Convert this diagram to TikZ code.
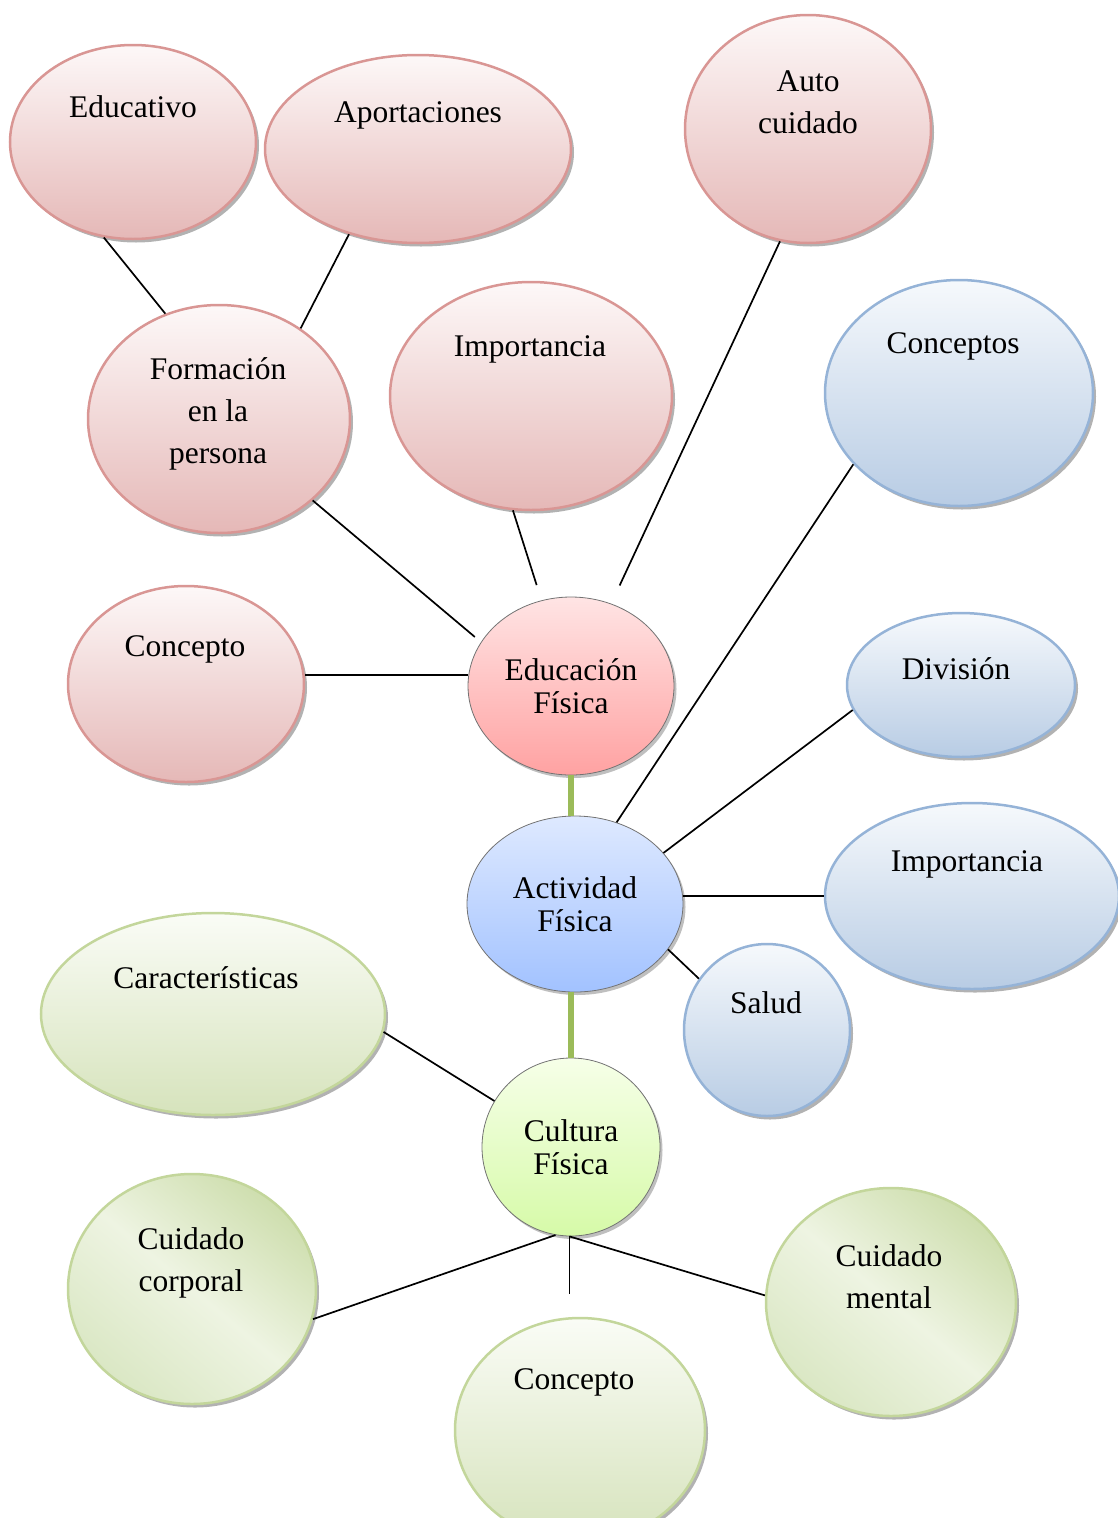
\documentclass[tikz,border=0pt]{standalone}
\usepackage{fontspec}
\setmainfont{Liberation Serif}
\usetikzlibrary{shapes.geometric,shadows,calc}

\definecolor{redline}{RGB}{217,150,148}
\definecolor{redtop}{RGB}{253,248,248}
\definecolor{redbot}{RGB}{229,184,183}
\definecolor{blueline}{RGB}{149,179,215}
\definecolor{bluetop}{RGB}{246,249,252}
\definecolor{bluebot}{RGB}{184,204,228}
\definecolor{greenline}{RGB}{195,214,155}
\definecolor{greentop}{RGB}{250,252,246}
\definecolor{greenbot}{RGB}{214,227,188}
\definecolor{greenlight}{RGB}{238,244,226}
\definecolor{greendark}{RGB}{206,222,174}
\definecolor{greenmid}{RGB}{218,231,196}
\definecolor{eftop}{RGB}{255,228,228}
\definecolor{efbot}{RGB}{255,162,162}
\definecolor{aftop}{RGB}{222,233,255}
\definecolor{afbot}{RGB}{162,194,255}
\definecolor{cftop}{RGB}{246,255,232}
\definecolor{cfbot}{RGB}{214,250,168}
\definecolor{spinegreen}{RGB}{155,187,89}

\tikzset{
  bubble/.style={ellipse, inner sep=0pt, line width=2.5pt,
    drop shadow={shadow xshift=3pt, shadow yshift=-3.5pt, fill=black!55, opacity=.55}},
  redbub/.style={bubble, draw=redline, top color=redtop, bottom color=redbot},
  bluebub/.style={bubble, draw=blueline, top color=bluetop, bottom color=bluebot},
  greenbub/.style={bubble, draw=greenline, top color=greentop, bottom color=greenbot},
  greendiag/.style={bubble, draw=greenline, top color=greendark, bottom color=greenmid,
    middle color=greenlight, shading angle=-40},
  hub/.style={ellipse, inner sep=0pt, draw=black!55, line width=0.8pt,
    drop shadow={shadow xshift=2.5pt, shadow yshift=-3pt, fill=black!50, opacity=.5}},
  lbl/.style={font=\fontsize{31.5}{42}\selectfont, align=center, inner sep=0pt, yshift=-3pt},
  hublbl/.style={font=\fontsize{31.5}{33}\selectfont, align=center, inner sep=0pt},
  link/.style={line width=1.7pt, black},
  spine/.style={line width=5.5pt, spinegreen},
}

\begin{document}
\begin{tikzpicture}[x=1pt,y=-1pt]
\useasboundingbox (0,0) rectangle (1117,1518);

% Outer bubbles around "Educación Física"
\node[redbub, minimum width=246pt, minimum height=194pt] (edu)  at (133,142) {};
\node[redbub, minimum width=306pt, minimum height=188pt] (apor) at (418,149) {};
\node[redbub, minimum width=246pt, minimum height=228pt] (auto) at (808,129) {};
\node[redbub, minimum width=262pt, minimum height=228pt] (form) at (219,419) {};
\node[redbub, minimum width=282pt, minimum height=228pt] (imp1) at (531,396) {};
\node[redbub, minimum width=236pt, minimum height=196pt] (con1) at (186,684) {};

% Outer bubbles around "Actividad Física"
\node[bluebub, minimum width=268pt, minimum height=226pt] (concs) at (959,393) {};
\node[bluebub, minimum width=228pt, minimum height=144pt] (div)   at (961,685) {};
\node[bluebub, minimum width=294pt, minimum height=186pt] (imp2)  at (972,896) {};
\node[bluebub, minimum width=166pt, minimum height=172pt] (salud) at (767,1030) {};

% Outer bubbles around "Cultura Física"
\node[greenbub,  minimum width=344pt, minimum height=202pt] (car)  at (213,1014) {};
\node[greendiag, minimum width=248pt, minimum height=230pt] (cc)   at (192,1289) {};
\node[greendiag, minimum width=250pt, minimum height=228pt] (cm)   at (891,1302) {};
\node[greenbub,  minimum width=250pt, minimum height=224pt] (con3) at (580,1430) {};

% Central hubs
\node[hub, top color=eftop, bottom color=efbot, minimum width=206pt, minimum height=178pt] (ef) at (571,686) {};
\node[hub, top color=aftop, bottom color=afbot, minimum width=216pt, minimum height=176pt] (af) at (575,904) {};
\node[hub, top color=cftop, bottom color=cfbot, minimum width=178pt, minimum height=178pt] (cf) at (571,1147) {};

% Spine between hubs
\draw[spine] (ef.south) -- (ef.south |- af.north);
\draw[spine] (af.south -| cf.north) -- (cf.north);

% Connectors
\draw[link] (edu.-107) -- (form.117);
\draw[link] (apor.-129) -- (form.48);
\draw[link, shorten >=8pt] (form.-41) -- (ef.154);
\draw[link, shorten >=16pt] (imp1.-99) -- (ef.109);
\draw[link, shorten >=20pt] (auto.-104) -- (ef.64);
\draw[link] (ef.174) -- (ef.174 -| con1.east);
\draw[link] (concs.-146) -- (af.63);
\draw[link] (div.-167) -- (af.30);
\draw[link] (imp2.west) -- (imp2.west -| af.east);
\draw[link] (salud.143) -- (af.-26);
\draw[link] (car.-6) -- (cf.149);
\draw[link] (cf.-100) -- (cc.-14);
\draw[link, shorten >=23pt] (cf.-91) -- (cf.-91 |- con3.north);
\draw[link] (cf.-91) -- (cm.177);

% Labels
\node[lbl] (edu-t)   at (133,104) {Educativo};
\node[lbl] (apor-t)  at (418,112) {Aportaciones};
\node[lbl] (auto-t)  at (808,99)  {Auto\\cuidado};
\node[lbl] (form-t)  at (218,411) {Formación\\en la\\persona};
\node[lbl] (imp1-t)  at (530,346) {Importancia};
\node[lbl] (con1-t)  at (185,646) {Concepto};
\node[lbl] (concs-t) at (953,343) {Conceptos};
\node[lbl] (div-t)   at (956,666) {División};
\node[lbl] (imp2-t)  at (967,861) {Importancia};
\node[lbl] (salud-t) at (766,1000) {Salud};
\node[lbl] (car-t)   at (206,975) {Características};
\node[lbl] (cc-t)    at (191,1260) {Cuidado\\corporal};
\node[lbl] (cm-t)    at (889,1274) {Cuidado\\mental};
\node[lbl] (con3-t)  at (574,1379) {Concepto};
\node[hublbl] (ef-t) at (571,686) {Educación\\Física};
\node[hublbl] (af-t) at (575,904) {Actividad\\Física};
\node[hublbl] (cf-t) at (571,1147) {Cultura\\Física};
\end{tikzpicture}
\end{document}
